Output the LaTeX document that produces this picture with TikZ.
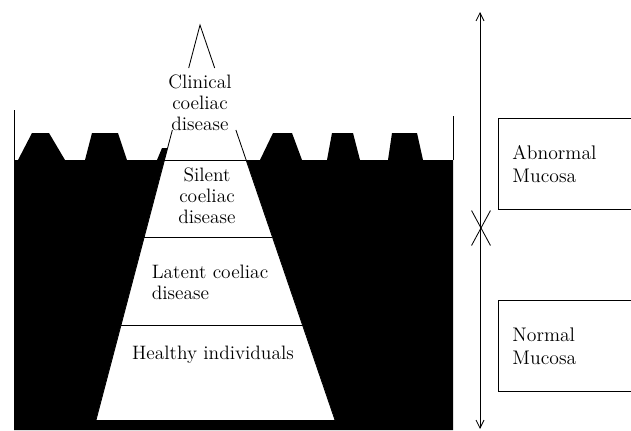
\documentclass[tikz,border=0pt]{standalone}
\usepackage{tikz}
\usetikzlibrary{arrows.meta,shapes.misc,positioning,calc}

\begin{document}
\begin{tikzpicture}[x=0.025cm,y=-0.025cm,
  mucosa/.style={fill=black},
  edge/.style={black,semithick},
  lbl/.style={font=\fontsize{13.8}{15}\selectfont,align=center,inner sep=1pt},
  mbox/.style={draw,semithick,anchor=north west,font=\fontsize{14}{16.5}\selectfont,
    minimum width=4cm,minimum height=2.275cm,text width=3.3cm,align=left,inner xsep=0.35cm}]
  \useasboundingbox (0,0) rectangle (631,430);
  % pyramid corners
  \coordinate (apex) at (200,25);
  \coordinate (bl) at (96,420);
  \coordinate (br) at (335,420);
  \coordinate (l68) at ($(apex)!0.1089!(bl)$);
  \coordinate (r68) at ($(apex)!0.1089!(br)$);
  \coordinate (l130) at ($(apex)!0.2658!(bl)$);
  \coordinate (r130) at ($(apex)!0.2658!(br)$);
  \coordinate (l148) at ($(apex)!0.3114!(bl)$);
  \coordinate (l160) at ($(apex)!0.3418!(bl)$);
  \coordinate (r160) at ($(apex)!0.3418!(br)$);
  \coordinate (l237) at ($(apex)!0.5367!(bl)$);
  \coordinate (r237) at ($(apex)!0.5367!(br)$);
  \coordinate (l325) at ($(apex)!0.7595!(bl)$);
  \coordinate (r325) at ($(apex)!0.7595!(br)$);
  % mucosa with villi
  \fill[mucosa] (14,430) -- (14,160) -- (18,160) -- (32,133) -- (49,133) -- (65,160)
    -- (85,160) -- (92,133) -- (118,133) -- (127,160) -- (157,160) -- (162,148)
    -- (l148) -- (l160) -- (260,160) -- (273,133) -- (292,133) -- (302,160)
    -- (327,160) -- (332,133) -- (353,133) -- (360,160) -- (388,160) -- (392,133)
    -- (417,133) -- (423,160) -- (453,160) -- (453,430) -- cycle;
  \draw[edge] (14,110) -- (14,160);
  \draw[edge] (453,116) -- (453,160);
  % pyramid
  \fill[white] (l160) -- (r160) -- (br) -- (bl) -- cycle;
  \draw[edge] (l68) -- (apex) -- (r68);
  \draw[edge] (l130) -- (bl);
  \draw[edge] (r130) -- (br);
  \draw[edge] (l160) -- (r160);
  \draw[edge] (l237) -- (r237);
  \draw[edge] (l325) -- (r325);
  \draw[edge] (bl) -- (br);
  \node[lbl] (clin) at (200,103) {Clinical\\coeliac\\disease};
  \node[lbl] (silent) at (207,196) {Silent\\coeliac\\disease};
  \node[lbl,align=left] (latent) at (210,282) {Latent coeliac\\disease};
  \node[lbl] (healthy) at (213,355) {Healthy individuals};
  % scale arrow
  \coordinate (atop) at (480,12);
  \coordinate (abot) at (480,429);
  \draw[edge,{Straight Barb[length=2mm,width=2mm]}-{Straight Barb[length=2mm,width=2mm]}] (atop) -- (abot);
  \node[cross out,draw,semithick,minimum width=0.45cm,minimum height=0.85cm,inner sep=0pt] (xmark) at (481,228) {};
  \node[mbox] (abn) at (498,118) {Abnormal\\Mucosa};
  \node[mbox] (norm) at (498,300) {Normal\\Mucosa};
\end{tikzpicture}
\end{document}
